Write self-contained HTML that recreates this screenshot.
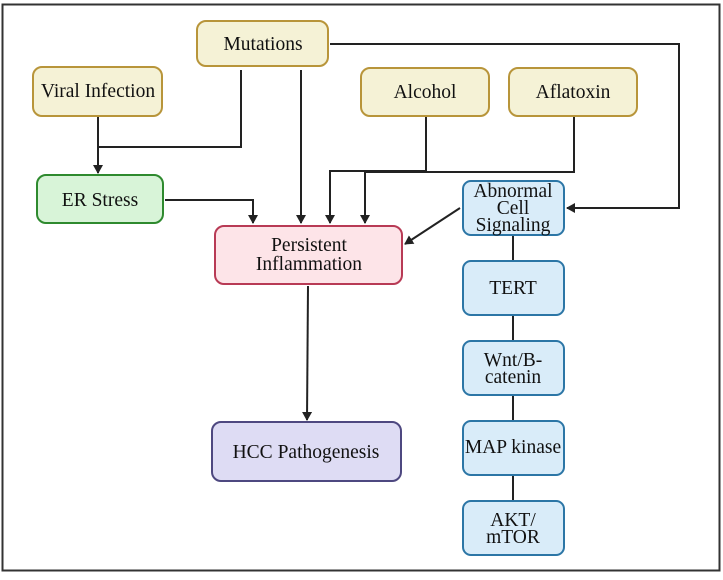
<!DOCTYPE html>
<html><head><style>
body{margin:0;background:#fff;}
svg text{font-family:"Liberation Serif",serif;font-size:19.5px;fill:#111;text-anchor:middle;}
</style></head><body>
<svg width="723" height="575" viewBox="0 0 723 575" xmlns="http://www.w3.org/2000/svg">
<defs><marker id="a" markerWidth="10" markerHeight="10" refX="8" refY="5" orient="auto" markerUnits="userSpaceOnUse"><path d="M0,0 L9,5 L0,10 z" fill="#222"/></marker></defs>
<rect x="2.5" y="4.5" width="717" height="566" fill="#fff" stroke="#333" stroke-width="2"/>
<g fill="none" stroke="#222" stroke-width="2">
<path d="M330,44 H679 V208 H567" marker-end="url(#a)"/>
<path d="M98,117 V173" marker-end="url(#a)"/>
<path d="M241,70 V147 H98"/>
<path d="M301,70 V223" marker-end="url(#a)"/>
<path d="M426,117 V171 H330 V223" marker-end="url(#a)"/>
<path d="M574,117 V172 H365 V223" marker-end="url(#a)"/>
<path d="M165,200 H253 V223" marker-end="url(#a)"/>
<path d="M460,208 L405,244" marker-end="url(#a)"/>
<path d="M308,286 L307,420" marker-end="url(#a)"/>
<path d="M513,236 V261 M513,315 V341 M513,395 V421 M513,475 V501"/>
</g>
<g stroke-width="2">
<rect x="197" y="21" width="131" height="45" rx="9" fill="#f5f2d6" stroke="#b8953a"/>
<rect x="33" y="67" width="129" height="49" rx="9" fill="#f5f2d6" stroke="#b8953a"/>
<rect x="361" y="68" width="128" height="48" rx="9" fill="#f5f2d6" stroke="#b8953a"/>
<rect x="509" y="68" width="128" height="48" rx="9" fill="#f5f2d6" stroke="#b8953a"/>
<rect x="37" y="175" width="126" height="48" rx="9" fill="#d8f4d8" stroke="#2e8a2e"/>
<rect x="215" y="226" width="187" height="58" rx="9" fill="#fde4e8" stroke="#b83a55"/>
<rect x="212" y="422" width="189" height="59" rx="9" fill="#dedcf4" stroke="#4e4880"/>
<g fill="#d9ecf9" stroke="#2c76a6">
<rect x="463" y="181" width="101" height="54" rx="8"/>
<rect x="463" y="261" width="101" height="54" rx="8"/>
<rect x="463" y="341" width="101" height="54" rx="8"/>
<rect x="463" y="421" width="101" height="54" rx="8"/>
<rect x="463" y="501" width="101" height="54" rx="8"/>
</g></g>
<text x="263" y="50">Mutations</text>
<text x="98" y="97">Viral Infection</text>
<text x="425" y="98">Alcohol</text>
<text x="573" y="98">Aflatoxin</text>
<text x="100" y="206">ER Stress</text>
<text x="309" y="251">Persistent</text>
<text x="309" y="270">Inflammation</text>
<text x="306" y="458">HCC Pathogenesis</text>
<g style="font-size:16.5px">
<text x="513" y="197">Abnormal</text>
<text x="513" y="214">Cell</text>
<text x="513" y="231">Signaling</text>
<text x="513" y="294">TERT</text>
<text x="513" y="366">Wnt/B-</text>
<text x="513" y="383">catenin</text>
<text x="513" y="453">MAP kinase</text>
<text x="513" y="526">AKT/</text>
<text x="513" y="543">mTOR</text>
</g>
</svg>
</body></html>
